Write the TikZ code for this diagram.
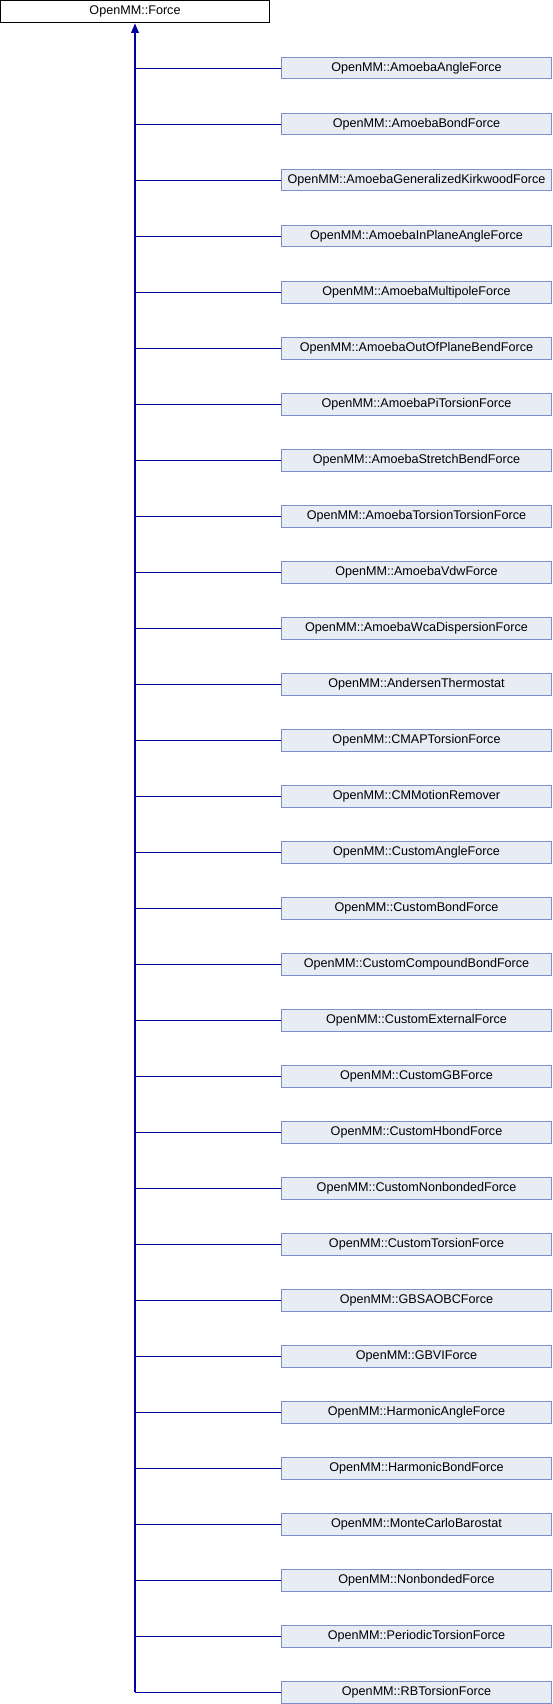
\documentclass[tikz,border=0pt]{standalone}
\usepackage{fontspec}
\setmainfont{Liberation Sans}
\usepackage{tikz}
\usetikzlibrary{shapes.geometric, arrows}
\definecolor{edgeblue}{RGB}{0,0,155}
\definecolor{boxline}{RGB}{122,144,200}
\definecolor{boxfill}{RGB}{232,236,245}

\begin{document}
\begin{tikzpicture}[x=1pt,y=-1pt,
	base node/.style={rectangle,draw=black,fill=white,line width=1pt,inner sep=0pt,
		minimum width=269pt,minimum height=22.5pt,font=\fontsize{12.6}{14}\selectfont},
	main node/.style={rectangle,draw=boxline,fill=boxfill,line width=1pt,inner sep=0pt,
		minimum width=270pt,minimum height=21.5pt,font=\fontsize{12.6}{14}\selectfont},
	link/.style={draw=edgeblue,line width=1.2pt},
	>=triangle 45]
	\useasboundingbox (0,0) rectangle (552,1704);
	\node[base node] (0) at (135,11.75) {OpenMM::Force};
	
	% derived classes
	\foreach \name [count=\i] in {AmoebaAngleForce,AmoebaBondForce,AmoebaGeneralizedKirkwoodForce,
		AmoebaInPlaneAngleForce,AmoebaMultipoleForce,AmoebaOutOfPlaneBendForce,AmoebaPiTorsionForce,
		AmoebaStretchBendForce,AmoebaTorsionTorsionForce,AmoebaVdwForce,AmoebaWcaDispersionForce,
		AndersenThermostat,CMAPTorsionForce,CMMotionRemover,CustomAngleForce,CustomBondForce,
		CustomCompoundBondForce,CustomExternalForce,CustomGBForce,CustomHbondForce,
		CustomNonbondedForce,CustomTorsionForce,GBSAOBCForce,GBVIForce,HarmonicAngleForce,
		HarmonicBondForce,MonteCarloBarostat,NonbondedForce,PeriodicTorsionForce,RBTorsionForce}
	{
		\node[main node] (\i) at (416.5,{68.25+56*(\i-1)}) {OpenMM::\name};
		\path[link] (\i.west) -- (\i.west -| 0.south);
	}
	
	\path[link,->] (30.west -| 0.south) -- (0.south);
\end{tikzpicture}
\end{document}
